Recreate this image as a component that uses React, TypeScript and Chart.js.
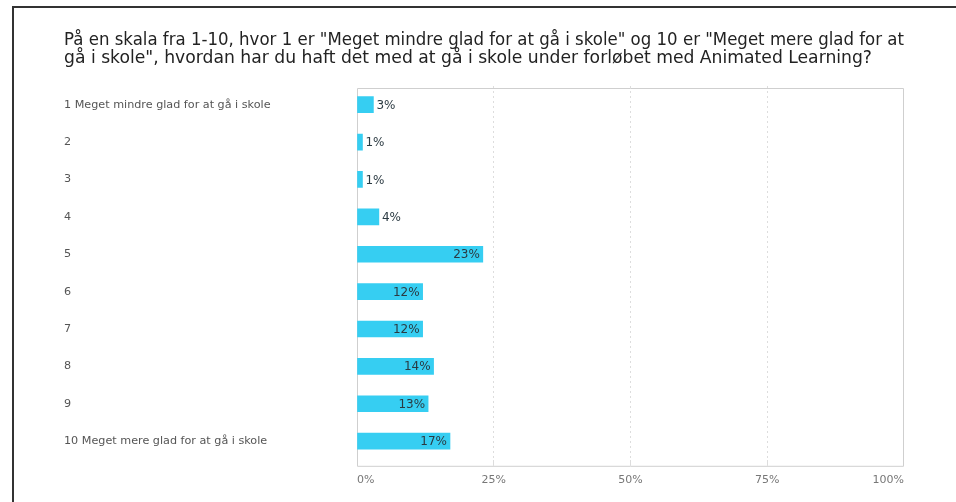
import React, { useEffect, useRef } from "react";
import { Chart, registerables } from "chart.js";

Chart.register(...registerables);

const titleLines = [
  'På en skala fra 1-10, hvor 1 er "Meget mindre glad for at gå i skole" og 10 er "Meget mere glad for at',
  'gå i skole", hvordan har du haft det med at gå i skole under forløbet med Animated Learning?',
];
const categories = [
  "1 Meget mindre glad for at gå i skole",
  "2",
  "3",
  "4",
  "5",
  "6",
  "7",
  "8",
  "9",
  "10 Meget mere glad for at gå i skole",
];
const values = [3, 1, 1, 4, 23, 12, 12, 14, 13, 17];
const xTicks = [0, 25, 50, 75, 100];

const BAR_COLOR = "#36CEF2";

const framePlugin = {
  id: "frame",
  beforeDatasetsDraw(chart: any) {
    const { ctx, chartArea } = chart;
    ctx.save();
    ctx.strokeStyle = "#cfcfcf";
    ctx.lineWidth = 1;
    ctx.beginPath();
    ctx.moveTo(chartArea.left + 0.5, chartArea.top + 2.5);
    ctx.lineTo(chartArea.right - 0.5, chartArea.top + 2.5);
    ctx.lineTo(chartArea.right - 0.5, chartArea.bottom + 6.5);
    ctx.lineTo(chartArea.left + 0.5, chartArea.bottom + 6.5);
    ctx.closePath();
    ctx.stroke();
    ctx.restore();
  },
};

const valueLabelPlugin = {
  id: "valueLabels",
  afterDatasetsDraw(chart: any) {
    const { ctx } = chart;
    const meta = chart.getDatasetMeta(0);
    ctx.save();
    ctx.font = "12px 'DejaVu Sans', sans-serif";
    ctx.textBaseline = "middle";
    ctx.fillStyle = "#2b3a42";
    meta.data.forEach((bar: any, i: number) => {
      const v = values[i];
      const text = v + "%";
      if (v >= 10) {
        ctx.textAlign = "right";
        ctx.fillText(text, bar.x - 3, bar.y + 1);
      } else {
        ctx.textAlign = "left";
        ctx.fillText(text, bar.x + 3, bar.y + 1);
      }
    });
    ctx.restore();
  },
};

export default function App() {
  const canvasRef = useRef<HTMLCanvasElement | null>(null);

  useEffect(() => {
    document.body.style.margin = "0";
    const canvas = canvasRef.current;
    if (!canvas) return;
    const chart = new Chart(canvas, {
      type: "bar",
      data: {
        labels: categories,
        datasets: [
          {
            data: values,
            backgroundColor: BAR_COLOR,
            borderWidth: 0,
            barThickness: 16,
          },
        ],
      },
      plugins: [framePlugin, valueLabelPlugin],
      options: {
        indexAxis: "y",
        responsive: false,
        animation: false,
        devicePixelRatio: 1,
        layout: { padding: { left: 64, right: 22, top: 0, bottom: 7 } },
        plugins: {
          legend: { display: false },
          tooltip: { enabled: false },
          title: {
            display: true,
            text: titleLines,
            align: "start",
            color: "#222",
            font: { family: "'DejaVu Sans', sans-serif", size: 17.2, weight: "normal", lineHeight: "18px" },
            padding: { top: 32, bottom: 18 },
          },
        },
        scales: {
          x: {
            type: "linear",
            min: 0,
            max: 100,
            afterBuildTicks: (scale: any) => {
              scale.ticks = xTicks.map((v) => ({ value: v }));
            },
            ticks: {
              align: "inner",
              padding: 8,
              color: "#777",
              font: { family: "'DejaVu Sans', sans-serif", size: 11 },
              callback: (v: any) => v + "%",
            },
            grid: {
              drawTicks: true,
              tickLength: 6,
              color: (c: any) => (c.tick && (c.tick.value === 0 || c.tick.value === 100) ? "rgba(0,0,0,0)" : "#dddddd"),
              lineWidth: 1,
            },
            border: { display: false, dash: [2, 3] },
          },
          y: {
            type: "category",
            offset: true,
            afterFit: (scale: any) => {
              scale.width = 293;
            },
            ticks: {
              crossAlign: "far",
              color: "#555",
              font: { family: "'DejaVu Sans', sans-serif", size: 11.2 },
            },
            grid: { display: false },
            border: { display: false },
          },
        },
      } as any,
    });
    return () => chart.destroy();
  }, []);

  return (
    <div style={{ position: "relative", width: 956, height: 502, overflow: "hidden", background: "#fff" }}>
      <canvas ref={canvasRef} width={926} height={502} style={{ position: "absolute", left: 0, top: 0, width: 926, height: 502 }} />
      <div
        style={{
          position: "absolute",
          left: 12,
          top: 6,
          right: 0,
          bottom: 0,
          borderLeft: "2px solid #333",
          borderTop: "2px solid #333",
          pointerEvents: "none",
        }}
      />
    </div>
  );
}
